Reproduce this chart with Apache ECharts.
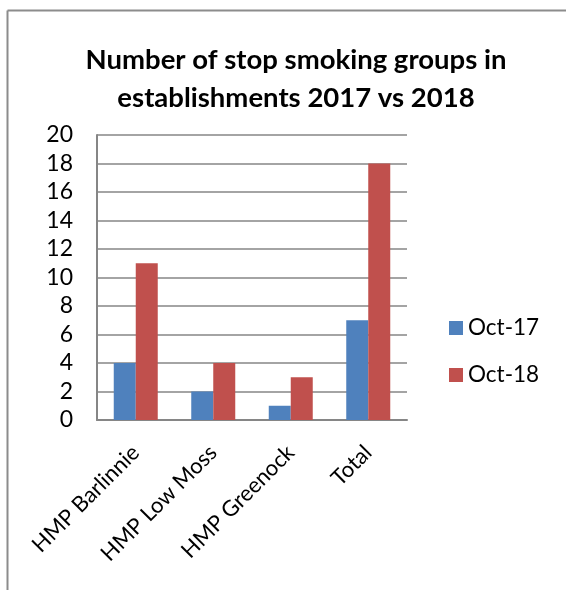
<!DOCTYPE html>
<html><head><meta charset="utf-8">
<script src="https://cdn.jsdelivr.net/npm/echarts@6/dist/echarts.min.js"></script>
<style>html,body{margin:0;padding:0;background:#fff}#c{width:566px;height:590px}</style>
</head><body><div id="c"></div>
<script>
const categories = ['HMP Barlinnie', 'HMP Low Moss', 'HMP Greenock', 'Total'];
const oct17 = [4, 2, 1, 7];
const oct18 = [11, 4, 3, 18];
const seriesNames = ['Oct-17', 'Oct-18'];
const titleText = 'Number of stop smoking groups in\nestablishments 2017 vs 2018';

const font = 'Lato, "Open Sans", sans-serif';
const chart = echarts.init(document.getElementById('c'));
chart.setOption({
  animation: false,
  graphic: [
    { type: 'line', shape: { x1: 7.5, y1: 10.5, x2: 566, y2: 10.5 }, style: { stroke: '#8c8c8c', lineWidth: 2 } },
    { type: 'line', shape: { x1: 7.5, y1: 10.5, x2: 7.5, y2: 590 }, style: { stroke: '#8c8c8c', lineWidth: 2 } }
  ],
  title: {
    text: titleText, left: 291, textAlign: 'center', top: 36,
    textStyle: { fontFamily: font, fontWeight: 'bold', fontSize: 27.5, lineHeight: 38, color: '#000' }
  },
  legend: {
    orient: 'vertical', left: 444, top: 311, itemWidth: 14, itemHeight: 14, itemGap: 23,
    icon: 'rect', textStyle: { fontFamily: font, fontSize: 22.5, lineHeight: 24, color: '#000' },
    data: seriesNames
  },
  grid: { left: 97, top: 135, width: 310, height: 285, containLabel: false },
  xAxis: {
    type: 'category', data: categories,
    axisLine: { lineStyle: { color: '#868686', width: 2 } },
    axisTick: { show: false },
    axisLabel: { rotate: 45, fontFamily: font, fontSize: 22, color: '#000', margin: 29, interval: 0,
      padding: [14, 0, 0, 0] }
  },
  yAxis: {
    type: 'value', min: 0, max: 20, interval: 2,
    axisLine: { show: true, lineStyle: { color: '#868686', width: 2 } },
    axisTick: { show: false },
    splitLine: { lineStyle: { color: '#868686', width: 1.5 } },
    axisLabel: { fontFamily: font, fontSize: 23, color: '#000', margin: 24 }
  },
  series: [
    { name: seriesNames[0], type: 'bar', data: oct17, barWidth: 22, barGap: '0%', itemStyle: { color: '#4F81BD' } },
    { name: seriesNames[1], type: 'bar', data: oct18, barWidth: 22, barGap: '0%', itemStyle: { color: '#C0504D' } }
  ]
});
</script></body></html>
